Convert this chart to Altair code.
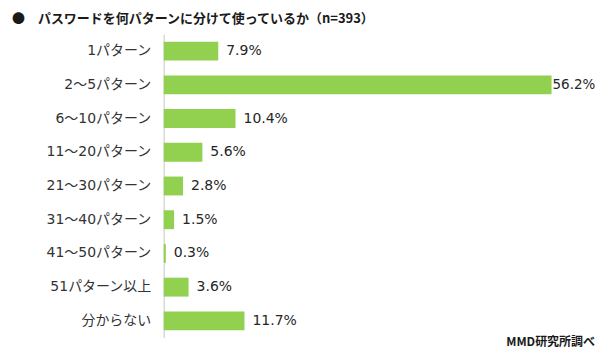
import altair as alt
import pandas as pd

categories = ["1パターン", "2～5パターン", "6～10パターン", "11～20パターン", "21～30パターン",
              "31～40パターン", "41～50パターン", "51パターン以上", "分からない"]
values = [7.9, 56.2, 10.4, 5.6, 2.8, 1.5, 0.3, 3.6, 11.7]
title_text = "●　パスワードを何パターンに分けて使っているか（n=393）"
source_text = "MMD研究所調べ"

df = pd.DataFrame({"cat": categories, "val": values})
df["label"] = df["val"].map(lambda v: f"{v:.1f}%")

FONT = "DejaVu Sans, Noto Sans CJK JP"
CJK = "Noto Sans CJK JP"
W, H = 394, 304

y_enc = alt.Y("cat:N", sort=categories, title=None,
              scale=alt.Scale(paddingInner=0.44, paddingOuter=0.22),
              axis=alt.Axis(domainColor="#d9d9d9", domainWidth=1.5, ticks=False,
                            labelPadding=13, labelFontSize=14, labelColor="#333333",
                            labelFont=FONT, grid=False))
x_enc = alt.X("val:Q", scale=alt.Scale(domain=[0, 57], nice=False), axis=None)

base = alt.Chart(df)
bars = base.mark_bar(color="#92d050").encode(x=x_enc, y=y_enc)
labels_small = base.transform_filter("datum.val < 50").mark_text(
    align="left", baseline="middle", dx=8, fontSize=14, font=FONT, color="#262626"
).encode(x=x_enc, y=alt.Y("cat:N", sort=categories), text="label:N")
labels_big = base.transform_filter("datum.val >= 50").mark_text(
    align="left", baseline="middle", dx=1, fontSize=13.5, font=FONT, color="#262626"
).encode(x=x_enc, y=alt.Y("cat:N", sort=categories), text="label:N")

note = alt.Chart(pd.DataFrame({"t": [source_text]})).mark_text(
    align="right", baseline="alphabetic", fontSize=12, fontWeight="bold", font=CJK, color="#1a1a1a"
).encode(x=alt.value(W + 38), y=alt.value(H + 8), text="t:N")

chart = (bars + labels_small + labels_big + note).properties(
    width=W, height=H,
    autosize=alt.AutoSizeParams(type="none"),
    padding={"left": 156, "top": 26, "right": 40, "bottom": 12},
    title=alt.TitleParams(title_text, anchor="start", frame="group", dx=-152, offset=8,
                          fontSize=13, fontWeight="bold", font=CJK, color="#1a1a1a"),
).configure_view(stroke=None)

chart.save("out.html", embed_options={"renderer": "svg", "actions": False})
